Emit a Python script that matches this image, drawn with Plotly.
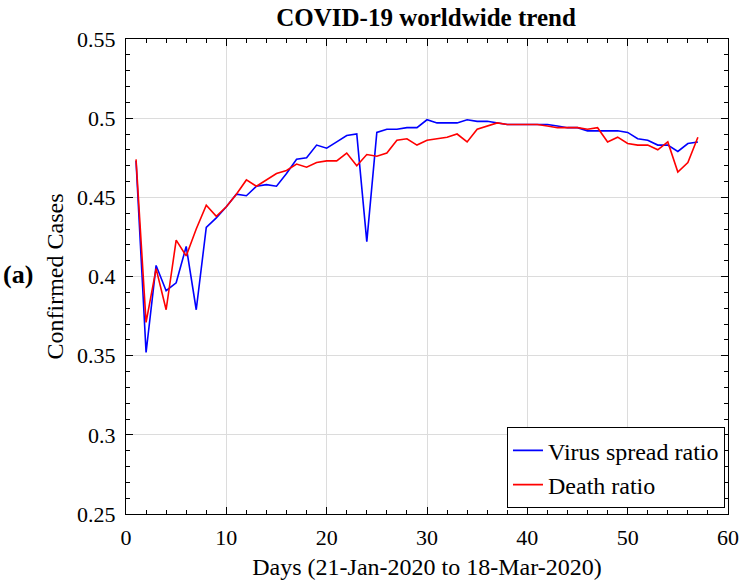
import plotly.graph_objects as go

days = list(range(1, 58))

virus_spread_ratio = [
    0.473, 0.352, 0.407, 0.391, 0.396, 0.419, 0.379, 0.431, 0.437, 0.444,
    0.452, 0.451, 0.457, 0.458, 0.457, 0.465, 0.474, 0.475, 0.483, 0.481,
    0.485, 0.489, 0.490, 0.422, 0.491, 0.493, 0.493, 0.494, 0.494, 0.499,
    0.497, 0.497, 0.497, 0.499, 0.498, 0.498, 0.497, 0.496, 0.496, 0.496,
    0.496, 0.496, 0.495, 0.494, 0.494, 0.492, 0.492, 0.492, 0.492, 0.491,
    0.487, 0.486, 0.483, 0.483, 0.479, 0.484, 0.485,
]

death_ratio = [
    0.474, 0.371, 0.405, 0.379, 0.423, 0.413, 0.430, 0.445, 0.438, 0.444,
    0.452, 0.461, 0.457, 0.461, 0.465, 0.467, 0.471, 0.469, 0.472, 0.473,
    0.473, 0.478, 0.470, 0.477, 0.476, 0.478, 0.486, 0.487, 0.483, 0.486,
    0.487, 0.488, 0.490, 0.485, 0.493, 0.495, 0.497, 0.496, 0.496, 0.496,
    0.496, 0.495, 0.494, 0.494, 0.494, 0.493, 0.494, 0.485, 0.488, 0.484,
    0.483, 0.483, 0.480, 0.485, 0.466, 0.472, 0.488,
]

x_ticks = [0, 10, 20, 30, 40, 50, 60]
y_ticks = [0.25, 0.3, 0.35, 0.4, 0.45, 0.5, 0.55]
y_tick_labels = ["0.25", "0.3", "0.35", "0.4", "0.45", "0.5", "0.55"]

FONT = "Liberation Serif"

fig = go.Figure()
fig.add_trace(go.Scatter(x=days, y=virus_spread_ratio, mode="lines",
                         name="Virus spread ratio",
                         line=dict(color="#0000ff", width=1.6)))
fig.add_trace(go.Scatter(x=days, y=death_ratio, mode="lines",
                         name="Death ratio",
                         line=dict(color="#ff0000", width=1.6)))

axis_common = dict(
    showline=True, linecolor="black", linewidth=1.2, mirror="ticks",
    ticks="inside", ticklen=7, tickcolor="black", tickwidth=1,
    showgrid=True, gridcolor="#dcdcdc", gridwidth=1, zeroline=False,
    automargin=False,
    tickfont=dict(family=FONT, size=22, color="black"),
)

fig.update_xaxes(
    range=[0, 60], tickvals=x_ticks, ticklabelstandoff=3,
    title=dict(text="Days (21-Jan-2020 to 18-Mar-2020)",
               font=dict(family=FONT, size=24, color="black"), standoff=9),
    minor=dict(ticks="inside", ticklen=4, dtick=2, tickcolor="black", showgrid=False),
    **axis_common,
)
fig.update_yaxes(
    range=[0.25, 0.55], tickvals=y_ticks, ticktext=y_tick_labels,
    ticklabelstandoff=5,
    title=dict(text="Confirmed Cases",
               font=dict(family=FONT, size=24, color="black"), standoff=6),
    minor=dict(ticks="inside", ticklen=4, dtick=0.01, tick0=0.25,
               tickcolor="black", showgrid=False),
    **axis_common,
)

fig.update_layout(
    width=743, height=585,
    margin=dict(l=126, r=15, t=39, b=71),
    plot_bgcolor="white", paper_bgcolor="white",
    title=dict(text="<b>COVID-19 worldwide trend</b>", x=0.5734, xanchor="center",
               xref="container", y=0.971, yanchor="middle",
               font=dict(family=FONT, size=25, color="black")),
    legend=dict(x=0.995, y=0.012, xanchor="right", yanchor="bottom",
                bgcolor="white", bordercolor="black", borderwidth=1,
                font=dict(family=FONT, size=24, color="black"),
                tracegroupgap=0),
    showlegend=True,
)

fig.add_annotation(text="<b>(a)</b>", xref="paper", yref="paper",
                   x=-0.2077, y=0.505, xanchor="left", showarrow=False,
                   font=dict(family=FONT, size=26, color="black"))

fig.write_html("out.html", config={"displayModeBar": False},
               post_script="document.body.style.margin='0px';document.body.style.padding='0px';")
